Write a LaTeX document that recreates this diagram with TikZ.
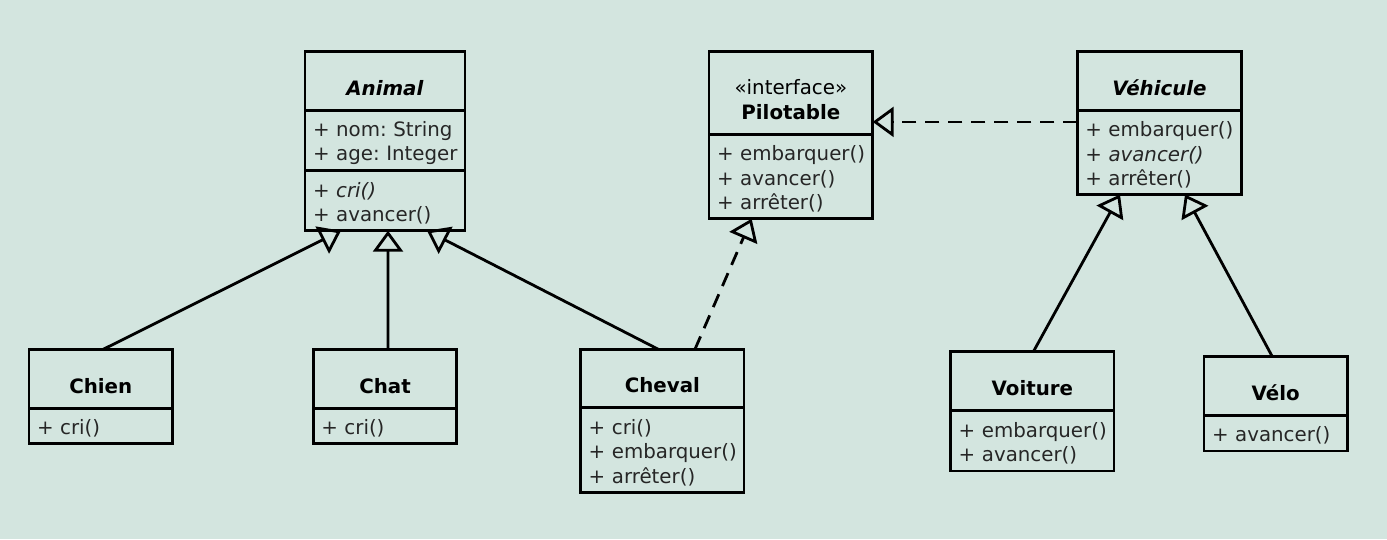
\documentclass[tikz,border=0pt]{standalone}
\usepackage{fontspec}
\setmainfont{DejaVu Sans}
\usetikzlibrary{arrows.meta,positioning}

\definecolor{bgsage}{HTML}{D3E5DF}
\hyphenpenalty=10000
\exhyphenpenalty=10000

\begin{document}
\begin{tikzpicture}[x=1pt, y=-1pt, line width=2.8pt,
    every node/.style={font=\fontsize{19.8}{24.5}\selectfont},
    head/.style={draw, outer sep=0pt, inner xsep=8pt, inner ysep=0pt, text width=#1, align=center, text height=28.75pt, minimum height=58.5pt},
    members/.style={draw, outer sep=0pt, inner xsep=8pt, inner ysep=0pt, text width=#1, align=left, text height=20.1pt, text=black!85},
    inherit/.style={-{Triangle[open, length=21pt, width=30pt]}},
    realize/.style={inherit, dash pattern=on 14pt off 9pt}]

    % Background
    \fill[bgsage] (0,0) rectangle (1387,539);

    % Animal (abstract)
    \node[head=144pt, anchor=north west] (animal) at (305,51.7) {\textbf{\textit{Animal}}};
    \node[members=144pt, minimum height=60.5pt, below=0pt of animal] (animal-attr) {+~nom:~String\\+~age:~Integer};
    \node[members=144pt, minimum height=60pt, below=0pt of animal-attr] (animal-ops) {+~\textit{cri()}\\+~avancer()};

    % Pilotable (interface)
    \node[head=147.7pt, minimum height=82.5pt, anchor=north west] (pilotable) at (709,51.7) {«interface»\\\textbf{Pilotable}};
    \node[members=147.7pt, minimum height=84.5pt, below=0pt of pilotable] (pilotable-ops) {+~embarquer()\\+~avancer()\\+~arrêter()};

    % Vehicule (abstract)
    \node[head=148.4pt, anchor=north west] (vehicule) at (1077.3,51.7) {\textbf{\textit{Véhicule}}};
    \node[members=148.4pt, minimum height=84.3pt, below=0pt of vehicule] (vehicule-ops) {+~embarquer()\\+~\textit{avancer()}\\+~arrêter()};

    % Animals
    \node[head=127.5pt, minimum height=59pt, anchor=north west] (chien) at (29,349.3) {\textbf{Chien}};
    \node[members=127.5pt, minimum height=35pt, below=0pt of chien] (chien-ops) {+~cri()};
    \node[head=127.5pt, minimum height=59pt, anchor=north west] (chat) at (313.3,349.3) {\textbf{Chat}};
    \node[members=127.5pt, minimum height=35pt, below=0pt of chat] (chat-ops) {+~cri()};
    \node[head=147.3pt, minimum height=58.4pt, anchor=north west] (cheval) at (580.7,349.3) {\textbf{Cheval}};
    \node[members=147.3pt, minimum height=85pt, below=0pt of cheval] (cheval-ops) {+~cri()\\+~embarquer()\\+~arrêter()};

    % Vehicles
    \node[head=147.3pt, anchor=north west] (voiture) at (950.7,351.7) {\textbf{Voiture}};
    \node[members=147.3pt, minimum height=60.7pt, below=0pt of voiture] (voiture-ops) {+~embarquer()\\+~avancer()};
    \node[head=127.5pt, anchor=north west] (velo) at (1204,356.7) {\textbf{Vélo}};
    \node[members=127.5pt, minimum height=35.7pt, below=0pt of velo] (velo-ops) {+~avancer()};

    % Generalisations
    \foreach \sub/\from/\to in {chien/2.5/-44, chat/3/3, cheval/-4/42} {
        \draw[inherit] ([xshift=\from pt]\sub.north) -- ([xshift=\to pt]animal-ops.south);
    }
    \foreach \sub/\from/\to in {voiture/1/-39.5, velo/-3.4/25.5} {
        \draw[inherit] ([xshift=\from pt]\sub.north) -- ([xshift=\to pt]vehicule-ops.south);
    }

    % Realisations
    \draw[realize] ([xshift=32.6pt]cheval.north) -- ([xshift=-39.2pt]pilotable-ops.south);
    \coordinate (veh-port) at ([yshift=-11.7pt]vehicule-ops.north west);
    \draw[realize] (veh-port) -- (veh-port -| pilotable.east);
\end{tikzpicture}
\end{document}
